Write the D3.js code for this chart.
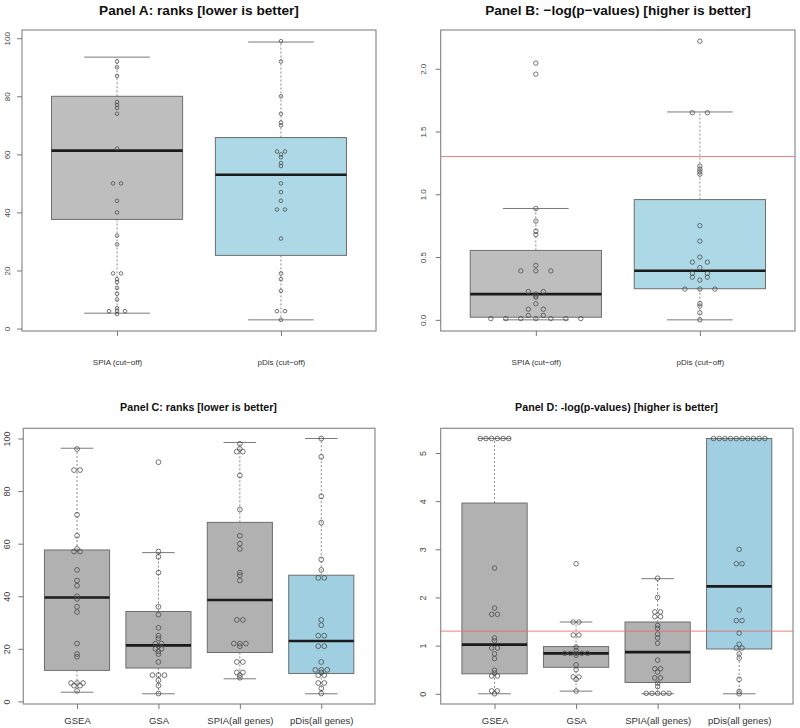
<!DOCTYPE html>
<html><head><meta charset="utf-8">
<script src="https://cdn.jsdelivr.net/npm/d3@7"></script>
<style>
body{margin:0;background:#fff}
svg{display:block}
text{font-family:"Liberation Sans",Arial,Helvetica,sans-serif}
</style>
</head><body>
<svg id="chart" width="800" height="728"></svg>
<script>
// ---------------- DATA ----------------
// Panel A: ranks (cut-off)
const catsA = ["SPIA (cut\u2212off)", "pDis (cut\u2212off)"];
const rankA_SPIA = [92, 90, 87, 78, 77, 76, 74, 62, 50, 50, 44, 40, 32, 29, 19, 19, 17, 16, 14, 12, 10, 7, 6, 6, 6, 5];
const rankA_pDis = [99, 92, 80, 74, 71, 70, 61, 61, 60, 59, 57, 56, 50, 47, 44, 41, 41, 31, 19, 17, 13, 6, 6, 3];
// box stats: [lower whisker, Q1, median, Q3, upper whisker]
const boxA_SPIA = [5.3, 37.6, 61.3, 80.0, 93.5];
const boxA_pDis = [3.0, 25.2, 53.0, 65.8, 98.7];
const ticksA = [0, 20, 40, 60, 80, 100];

// Panel B: -log(p-values) (cut-off)
const catsB = ["SPIA (cut\u2212off)", "pDis (cut\u2212off)"];
const logpB_SPIA = [2.045, 1.957, 0.887, 0.786, 0.706, 0.679, 0.434, 0.39, 0.39, 0.39, 0.225, 0.225, 0.205, 0.19, 0.18, 0.128, 0.085, 0.085, 0.035, 0.035, 0.01, 0.01, 0.01, 0.01, 0.01, 0.01, 0.01];
const logpB_pDis = [2.22, 1.65, 1.65, 1.224, 1.20, 1.18, 1.16, 0.75, 0.627, 0.50, 0.46, 0.46, 0.416, 0.37, 0.37, 0.34, 0.34, 0.317, 0.245, 0.245, 0.245, 0.13, 0.11, 0.056, 0.0];
const boxB_SPIA = [0.0, 0.021, 0.205, 0.553, 0.887];
const boxB_pDis = [0.0, 0.248, 0.391, 0.958, 1.656];
const ticksB = [0, 0.5, 1.0, 1.5, 2.0];
const thresholdB = 1.301;

// Panel C: ranks (all genes)
const catsC = ["GSEA", "GSA", "SPIA(all genes)", "pDis(all genes)"];
const rankC_GSEA = [96, 88, 88, 71, 63, 58, 57, 57, 50, 46, 44, 40, 39, 36, 34, 22, 18, 17, 7, 7, 7, 6, 6, 4];
const rankC_GSA = [91, 57, 55, 49, 36, 33, 28, 25, 24, 22, 22, 21, 20, 20, 19, 18, 15, 10, 10, 10, 8, 6, 3];
const rankC_SPIA = [98, 96, 95, 95, 86, 73, 63, 60, 58, 49, 48, 46, 31, 31, 22, 22, 22, 21, 15, 15, 11, 11, 10, 9];
const rankC_pDis = [100, 93, 78, 68, 54, 50, 47, 47, 31, 29, 25, 25, 21, 21, 15, 12, 12, 12, 11, 10, 10, 7, 7, 5, 3];
const boxC_GSEA = [3.5, 11.8, 39.5, 57.6, 96.3];
const boxC_GSA = [2.9, 12.7, 21.3, 34.2, 56.6];
const boxC_SPIA = [8.6, 18.6, 38.6, 68.1, 98.5];
const boxC_pDis = [2.9, 10.6, 23.0, 48.0, 100.0];
const ticksC = [0, 20, 40, 60, 80, 100];

// Panel D: -log(p-values) (all genes)
const catsD = ["GSEA", "GSA", "SPIA(all genes)", "pDis(all genes)"];
const logpD_GSEA = [5.3, 5.3, 5.3, 5.3, 5.3, 5.3, 2.61, 1.78, 1.65, 1.65, 1.16, 1.10, 0.95, 0.95, 0.83, 0.73, 0.49, 0.43, 0.37, 0.37, 0.06, 0.06, 0.0];
const logpD_GSA = [2.70, 1.49, 1.49, 1.22, 1.22, 0.97, 0.90, 0.84, 0.84, 0.84, 0.84, 0.84, 0.80, 0.60, 0.50, 0.35, 0.35, 0.30, 0.055];
const logpD_SPIA = [2.40, 2.0, 1.70, 1.70, 1.60, 1.60, 1.42, 1.36, 1.24, 1.16, 1.05, 0.70, 0.52, 0.52, 0.45, 0.33, 0.33, 0.22, 0.15, 0.01, 0.01, 0.01, 0.01, 0.01];
const logpD_pDis = [5.3, 5.3, 5.3, 5.3, 5.3, 5.3, 5.3, 5.3, 5.3, 5.3, 3.0, 2.70, 2.70, 1.74, 1.52, 1.52, 1.26, 1.03, 0.95, 0.95, 0.83, 0.74, 0.30, 0.05, 0.0];
const boxD_GSEA = [0.0, 0.415, 1.02, 3.96, 5.30];
const boxD_GSA = [0.055, 0.55, 0.84, 0.98, 1.49];
const boxD_SPIA = [0.0, 0.235, 0.865, 1.49, 2.39];
const boxD_pDis = [0.0, 0.93, 2.23, 5.30, 5.30];
const ticksD = [0, 1, 2, 3, 4, 5];
const thresholdD = 1.301;

const titles = [
  "Panel A: ranks [lower is better]",
  "Panel B: \u2212log(p\u2212values) [higher is better]",
  "Panel C: ranks [lower is better]",
  "Panel D: -log(p-values) [higher is better]"
];

// ---------------- DRAWING ----------------
const svg = d3.select("#chart");
const GREY1 = "#bebebe", BLUE1 = "#add8e6";
const GREY2 = "#b1b1b1", BLUE2 = "#9fcfe1";

function fitText(sel, target) {
  const len = sel.node().getComputedTextLength();
  const fs = parseFloat(sel.attr("font-size"));
  if (len > 0) sel.attr("font-size", fs * target / len);
}

function swarm(values, dx) {
  const groups = d3.group(values.map((v, i) => ({v, i})), d => d.v);
  const off = new Array(values.length).fill(0);
  for (const [, arr] of groups) {
    const n = arr.length;
    arr.forEach((d, k) => { off[d.i] = (k - (n - 1) / 2) * dx; });
  }
  return off;
}

function drawPanel(p) {
  const g = svg.append("g");
  const n = p.cats.length;
  const x = d3.scaleLinear().domain([0.5 - 0.04 * n, n + 0.5 + 0.04 * n]).range([p.left, p.right]);
  const all = p.points.flat().concat(p.boxes.flat());
  const [mn, mx] = d3.extent(all);
  const pad = (mx - mn) * 0.04;
  const y = d3.scaleLinear().domain([mn - pad, mx + pad]).range([p.bottom, p.top]);
  const unit = x(2) - x(1);

  // boxes
  p.boxes.forEach((b, i) => {
    const cx = x(i + 1), hw = 0.4 * unit, cw = 0.2 * unit;
    const wcol = "#8a8a8a";
    g.append("line").attr("x1", cx).attr("x2", cx).attr("y1", y(b[3])).attr("y2", y(b[4]))
      .attr("stroke", wcol).attr("stroke-width", 1).attr("stroke-dasharray", "2,2");
    g.append("line").attr("x1", cx).attr("x2", cx).attr("y1", y(b[1])).attr("y2", y(b[0]))
      .attr("stroke", wcol).attr("stroke-width", 1).attr("stroke-dasharray", "2,2");
    [b[0], b[4]].forEach(v => {
      g.append("line").attr("x1", cx - cw).attr("x2", cx + cw).attr("y1", y(v)).attr("y2", y(v))
        .attr("stroke", "#7a7a7a").attr("stroke-width", 1);
    });
    g.append("rect").attr("x", cx - hw).attr("width", 2 * hw)
      .attr("y", y(b[3])).attr("height", y(b[1]) - y(b[3]))
      .attr("fill", p.fills[i]).attr("stroke", "#6e6e6e").attr("stroke-width", 1);
    g.append("line").attr("x1", cx - hw).attr("x2", cx + hw).attr("y1", y(b[2])).attr("y2", y(b[2]))
      .attr("stroke", "#1b1b1b").attr("stroke-width", 2.6);
  });

  // threshold line
  if (p.threshold != null) {
    g.append("line").attr("x1", p.left).attr("x2", p.right)
      .attr("y1", y(p.threshold)).attr("y2", y(p.threshold))
      .attr("stroke", "#ee6a6a").attr("stroke-opacity", 0.85).attr("stroke-width", 1);
  }

  // points
  p.points.forEach((vals, i) => {
    const off = swarm(vals, p.dx);
    g.append("g").selectAll("circle").data(vals).join("circle")
      .attr("cx", (d, k) => x(i + 1) + off[k])
      .attr("cy", d => y(d))
      .attr("r", p.r)
      .attr("fill", "none")
      .attr("stroke", "#4a4a4a")
      .attr("stroke-opacity", 0.85)
      .attr("stroke-width", 0.9);
  });

  // frame
  g.append("rect").attr("x", p.left).attr("y", p.top)
    .attr("width", p.right - p.left).attr("height", p.bottom - p.top)
    .attr("fill", "none").attr("stroke", "#8c8c8c").attr("stroke-width", 1.2);

  // y axis
  const ya = g.append("g").attr("transform", `translate(${p.left},0)`)
    .call(d3.axisLeft(y).tickValues(p.ticks).tickFormat(p.yfmt).tickSize(5).tickPadding(0));
  ya.select(".domain").remove();
  ya.selectAll(".tick line").attr("stroke", "#777");
  ya.selectAll(".tick text")
    .attr("x", null).attr("dy", null)
    .attr("transform", `translate(${p.ylabX - p.left},0) rotate(-90)`)
    .attr("text-anchor", "middle").attr("dominant-baseline", "central")
    .attr("font-size", p.tickFs).attr("fill", "#444")
    .style("font-family", "Liberation Sans, Arial, sans-serif");

  // x axis
  const xa = g.append("g").attr("transform", `translate(0,${p.bottom})`)
    .call(d3.axisBottom(x).tickValues(d3.range(1, n + 1)).tickFormat(d => p.cats[d - 1]).tickSize(5));
  xa.select(".domain").remove();
  xa.selectAll(".tick line").attr("stroke", "#777");
  xa.selectAll(".tick text")
    .attr("y", p.xlabY - p.bottom).attr("dy", "0.35em")
    .attr("font-size", p.xFs).attr("fill", "#333")
    .style("font-family", "Liberation Sans, Arial, sans-serif");

  // title
  const t = svg.append("text").attr("x", p.titleX).attr("y", p.titleY)
    .attr("text-anchor", "middle").attr("dy", "0.35em")
    .attr("font-weight", "bold").attr("font-size", 12).attr("fill", "#111")
    .text(p.title);
  fitText(t, p.titleW);
}

drawPanel({
  left: 22, right: 376, top: 30, bottom: 331,
  cats: catsA, points: [rankA_SPIA, rankA_pDis], boxes: [boxA_SPIA, boxA_pDis],
  fills: [GREY1, BLUE1], ticks: ticksA, yfmt: d3.format("d"),
  dx: 8, r: 1.8, ylabX: 7, tickFs: 8, xlabY: 362, xFs: 8,
  title: titles[0], titleX: 199, titleY: 10, titleW: 200
});
drawPanel({
  left: 440.7, right: 795, top: 30, bottom: 331,
  cats: catsB, points: [logpB_SPIA, logpB_pDis], boxes: [boxB_SPIA, boxB_pDis],
  fills: [GREY1, BLUE1], ticks: ticksB, yfmt: d3.format(".1f"), threshold: thresholdB,
  dx: 15, r: 2.2, ylabX: 423, tickFs: 8, xlabY: 362, xFs: 8,
  title: titles[1], titleX: 618, titleY: 10, titleW: 266
});
drawPanel({
  left: 23.3, right: 375, top: 428.3, bottom: 704,
  cats: catsC, points: [rankC_GSEA, rankC_GSA, rankC_SPIA, rankC_pDis],
  boxes: [boxC_GSEA, boxC_GSA, boxC_SPIA, boxC_pDis],
  fills: [GREY2, GREY2, GREY2, BLUE2], ticks: ticksC, yfmt: d3.format("d"),
  dx: 6, r: 2.4, ylabX: 7, tickFs: 9, xlabY: 721, xFs: 9.5,
  title: titles[2], titleX: 198.5, titleY: 407, titleW: 157
});
drawPanel({
  left: 440.7, right: 793, top: 428.3, bottom: 704,
  cats: catsD, points: [logpD_GSEA, logpD_GSA, logpD_SPIA, logpD_pDis],
  boxes: [boxD_GSEA, boxD_GSA, boxD_SPIA, boxD_pDis],
  fills: [GREY2, GREY2, GREY2, BLUE2], ticks: ticksD, yfmt: d3.format("d"), threshold: thresholdD,
  dx: 5.7, r: 2.3, ylabX: 423, tickFs: 9, xlabY: 721, xFs: 9.5,
  title: titles[3], titleX: 616.5, titleY: 407, titleW: 203
});
</script>
</body></html>
